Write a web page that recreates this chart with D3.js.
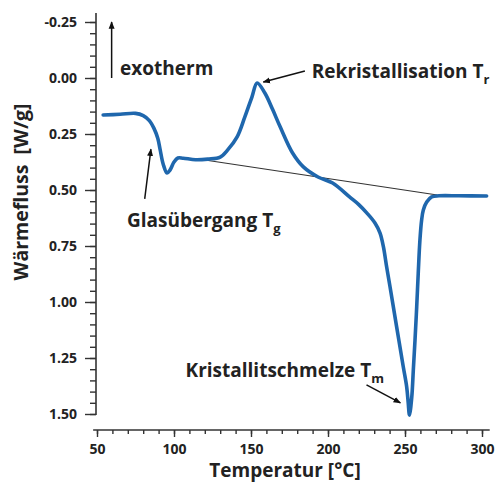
<!DOCTYPE html>
<html>
<head>
<meta charset="utf-8">
<script src="https://cdn.jsdelivr.net/npm/d3@7/dist/d3.min.js"></script>
<style>
  body { margin: 0; background: #fff; }
  svg { display: block; }
  text { font-family: "Open Sans", sans-serif; font-weight: 700; fill: #222; }
</style>
</head>
<body>
<svg id="chart" width="497" height="483"></svg>
<script>
// DSC curve: temperature [°C] and heat flow [W/g]
var temps = [54, 65, 75, 80, 84, 87, 89.5, 91, 93, 95.5, 97.5, 100, 102.5, 106, 114, 122, 130, 135, 141, 146, 150.6, 154,
  159, 164, 169, 177, 184, 193.5, 203, 214, 220, 225.3, 230.5, 233.8, 236, 238.1, 240.3, 244.6, 248.9, 251.1, 252.1, 252.9,
  254.4, 255.4, 256.5, 257.6, 258.6, 259.7, 260.8, 261.9, 264.1, 267.3, 272, 285, 303];
var flux = [0.165, 0.162, 0.158, 0.168, 0.19, 0.225, 0.27, 0.32, 0.385, 0.424, 0.41, 0.375, 0.357, 0.358, 0.365, 0.362, 0.353, 0.32, 0.263, 0.174, 0.085, 0.022,
  0.067, 0.14, 0.219, 0.335, 0.397, 0.442, 0.469, 0.531, 0.565, 0.603, 0.647, 0.692, 0.754, 0.844, 0.933, 1.112, 1.29, 1.379, 1.451, 1.505,
  1.424, 1.304, 1.17, 1.022, 0.871, 0.723, 0.634, 0.589, 0.554, 0.531, 0.526, 0.526, 0.527];

// straight baseline under the crystallisation / melting region
var baseT = [120, 271];
var baseV = [0.366, 0.522];

var xTicks = [50, 100, 150, 200, 250, 300];
var yTicks = [-0.25, 0, 0.25, 0.5, 0.75, 1.0, 1.25, 1.5];

var svg = d3.select("#chart");

var x = d3.scaleLinear().domain([50, 300]).range([97, 482]);
var y = d3.scaleLinear().domain([0, 1.5]).range([78, 414]);

var axisColor = "#333";

// axis lines
svg.append("line")
  .attr("x1", x(50) - 1).attr("x2", x(50) - 1)
  .attr("y1", y(-0.29)).attr("y2", y(1.5) + 1)
  .attr("stroke", axisColor).attr("stroke-width", 1.6);
svg.append("line")
  .attr("x1", x(47.5)).attr("x2", x(305))
  .attr("y1", 430).attr("y2", 430)
  .attr("stroke", axisColor).attr("stroke-width", 1.6);

// minor ticks
var yMinor = svg.append("g")
  .attr("transform", "translate(" + (x(50) - 1) + ",0)")
  .call(d3.axisLeft(y).tickValues(d3.range(-0.25, 1.51, 0.05)).tickSize(6).tickSizeOuter(0).tickFormat(""));
var xMinor = svg.append("g")
  .attr("transform", "translate(0,430)")
  .call(d3.axisBottom(x).tickValues(d3.range(50, 301, 10)).tickSize(4).tickSizeOuter(0).tickFormat(""));

// major ticks with labels
var yAxis = svg.append("g")
  .attr("transform", "translate(" + (x(50) - 1) + ",0)")
  .call(d3.axisLeft(y).tickValues(yTicks).tickSize(11).tickPadding(8).tickSizeOuter(0)
    .tickFormat(function(d) { return d.toFixed(2); }));
var xAxis = svg.append("g")
  .attr("transform", "translate(0,430)")
  .call(d3.axisBottom(x).tickValues(xTicks).tickSize(7).tickPadding(7).tickSizeOuter(0));

[yMinor, xMinor, yAxis, xAxis].forEach(function(g) {
  g.select(".domain").remove();
  g.selectAll(".tick line").attr("stroke", axisColor).attr("stroke-width", 1.4);
  g.selectAll(".tick text")
    .style("font-family", "'Open Sans', sans-serif")
    .style("font-weight", 700)
    .style("font-size", "14px")
    .attr("fill", "#222");
});

// axis titles
svg.append("text")
  .attr("transform", "translate(28,192) rotate(-90)")
  .attr("text-anchor", "middle")
  .style("font-size", "19.5px")
  .attr("xml:space", "preserve")
  .text("Wärmefluss  [W/g]");

svg.append("text")
  .attr("x", 285).attr("y", 477)
  .attr("text-anchor", "middle")
  .style("font-size", "19px")
  .text("Temperatur [°C]");

// baseline
svg.append("line")
  .attr("x1", x(baseT[0])).attr("y1", y(baseV[0]))
  .attr("x2", x(baseT[1])).attr("y2", y(baseV[1]))
  .attr("stroke", "#333").attr("stroke-width", 1.1);

// curve
var pts = temps.map(function(t, i) { return [t, flux[i]]; });
var line = d3.line()
  .x(function(d) { return x(d[0]); })
  .y(function(d) { return y(d[1]); })
  .curve(d3.curveCatmullRom.alpha(0.5));

svg.append("path")
  .datum(pts)
  .attr("d", line)
  .attr("fill", "none")
  .attr("stroke", "#1f67ad")
  .attr("stroke-width", 3.6)
  .attr("stroke-linejoin", "round")
  .attr("stroke-linecap", "round");

// arrow marker
svg.append("defs").append("marker")
  .attr("id", "arrow")
  .attr("viewBox", "0 0 10 10")
  .attr("refX", 9).attr("refY", 5)
  .attr("markerWidth", 5).attr("markerHeight", 5)
  .attr("orient", "auto")
  .append("path")
  .attr("d", "M0,1 L10,5 L0,9 z")
  .attr("fill", "#111");

// annotations: arrow tail/head and label position, in data units
var arrows = [
  [59.5, 0.0, 59.5, -0.25],
  [185, -0.031, 158, 0.018],
  [81, 0.54, 85, 0.318],
  [225, 1.37, 247, 1.45]
];
arrows.forEach(function(a) {
  svg.append("line")
    .attr("x1", x(a[0])).attr("y1", y(a[1]))
    .attr("x2", x(a[2])).attr("y2", y(a[3]))
    .attr("stroke", "#111").attr("stroke-width", 1.5)
    .attr("marker-end", "url(#arrow)");
});

var labels = [
  { t: 65, v: -0.013, main: "exotherm", sub: "" },
  { t: 189.5, v: 0.0, main: "Rekristallisation T", sub: "r" },
  { t: 69.5, v: 0.665, main: "Glasübergang T", sub: "g" },
  { t: 107.5, v: 1.335, main: "Kristallitschmelze T", sub: "m" }
];
labels.forEach(function(l) {
  var txt = svg.append("text")
    .attr("x", x(l.t)).attr("y", y(l.v))
    .style("font-size", "19px")
    .text(l.main);
  if (l.sub) {
    txt.append("tspan")
      .attr("dy", 6)
      .style("font-size", "13px")
      .text(l.sub);
  }
});
</script>
</body>
</html>
